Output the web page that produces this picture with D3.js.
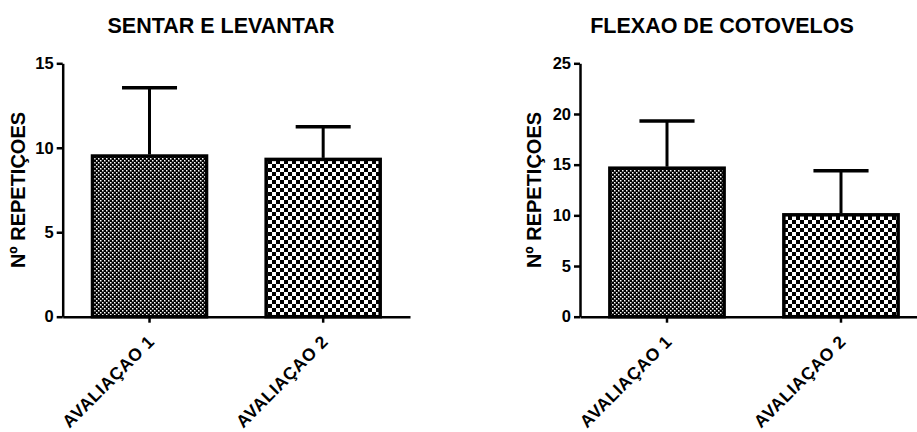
<!DOCTYPE html>
<meta charset="utf-8">
<style>

body {
  margin: 0;
  background: #fff;
}

text {
  font-family: "Liberation Sans", Arial, sans-serif;
  font-weight: bold;
  fill: #000;
}

.axis path,
.axis line {
  stroke: #000;
  stroke-width: 2.5px;
}

</style>
<body>
<script src="https://cdn.jsdelivr.net/npm/d3@7"></script>
<script>

var width = 917,
    height = 432;

var categories = ["AVALIAÇAO 1", "AVALIAÇAO 2"];

var sentarMeans = [9.6, 9.4],
    sentarErrors = [3.95, 1.85];

var flexaoMeans = [14.8, 10.2],
    flexaoErrors = [4.5, 4.2];

var sentarTicks = [0, 5, 10, 15],
    flexaoTicks = [0, 5, 10, 15, 20, 25];

var yLabel = "Nº REPETIÇOES";

var svg = d3.select("body").append("svg")
    .attr("width", width)
    .attr("height", height);

// two checker fills, fine for the first bar and coarse for the second
var defs = svg.append("defs");

function checker(id, cell, white, crisp) {
  var p = defs.append("pattern")
      .attr("id", id)
      .attr("patternUnits", "userSpaceOnUse")
      .attr("width", cell * 2)
      .attr("height", cell * 2);
  p.append("rect")
      .attr("width", cell * 2)
      .attr("height", cell * 2)
      .attr("fill", "#000");
  p.selectAll("rect.w")
      .data([[0, 0], [cell, cell]])
    .enter().append("rect")
      .attr("class", "w")
      .attr("x", function(d) { return d[0]; })
      .attr("y", function(d) { return d[1]; })
      .attr("width", white)
      .attr("height", white)
      .attr("fill", "#fff")
      .attr("shape-rendering", crisp ? "crispEdges" : null);
}

checker("fine", 2, 1.5, false);
checker("coarse", 4, 4, true);

var fills = ["url(#fine)", "url(#coarse)"];

drawChart({
  left: 62.7, right: 410, top: 63.3, bottom: 316.7,
  title: "SENTAR E LEVANTAR", titleX: 221,
  labelX: 25,
  max: 15, ticks: sentarTicks,
  means: sentarMeans, errors: sentarErrors
});

drawChart({
  left: 580, right: 928, top: 63.3, bottom: 316.7,
  title: "FLEXAO DE COTOVELOS", titleX: 722,
  labelX: 541,
  max: 25, ticks: flexaoTicks,
  means: flexaoMeans, errors: flexaoErrors
});

function drawChart(o) {
  var g = svg.append("g");

  var x = d3.scaleBand()
      .domain(categories)
      .range([o.left, o.right])
      .paddingInner(0.326)
      .paddingOuter(0.163);

  var y = d3.scaleLinear()
      .domain([0, o.max])
      .range([o.bottom, o.top]);

  g.append("text")
      .attr("x", o.titleX)
      .attr("y", 33)
      .attr("text-anchor", "middle")
      .style("font-size", "21.5px")
      .text(o.title);

  g.append("text")
      .attr("transform", "translate(" + o.labelX + "," + ((o.top + o.bottom) / 2) + ")rotate(-90)")
      .attr("text-anchor", "middle")
      .style("font-size", "20px")
      .text(yLabel);

  // bars
  g.selectAll(".bar")
      .data(o.means)
    .enter().append("rect")
      .attr("class", "bar")
      .attr("x", function(d, i) { return x(categories[i]) + 1.5; })
      .attr("width", x.bandwidth() - 3)
      .attr("y", function(d) { return y(d) + 1.5; })
      .attr("height", function(d) { return y(0) - y(d) - 1.5; })
      .attr("fill", function(d, i) { return fills[i]; })
      .attr("stroke", "#000")
      .attr("stroke-width", 3.5);

  // error bars (upper half only)
  var capW = x.bandwidth() * 0.47;

  var err = g.selectAll(".err")
      .data(o.means)
    .enter().append("g")
      .attr("class", "err")
      .attr("transform", function(d, i) {
        return "translate(" + (x(categories[i]) + x.bandwidth() / 2) + ",0)";
      });

  err.append("line")
      .attr("y1", function(d) { return y(d); })
      .attr("y2", function(d, i) { return y(d + o.errors[i]); })
      .attr("stroke", "#000")
      .attr("stroke-width", 3);

  err.append("line")
      .attr("x1", -capW / 2)
      .attr("x2", capW / 2)
      .attr("y1", function(d, i) { return y(d + o.errors[i]); })
      .attr("y2", function(d, i) { return y(d + o.errors[i]); })
      .attr("stroke", "#000")
      .attr("stroke-width", 3.5);

  var yAxis = g.append("g")
      .attr("class", "axis")
      .attr("transform", "translate(" + o.left + ",0)")
      .call(d3.axisLeft(y).tickValues(o.ticks).tickSize(6).tickSizeOuter(0).tickPadding(3));

  yAxis.selectAll("text")
      .style("font-size", "16.5px")
      .style("font-family", "'Liberation Sans', Arial, sans-serif");

  var xAxis = g.append("g")
      .attr("class", "axis")
      .attr("transform", "translate(0," + o.bottom + ")")
      .call(d3.axisBottom(x).tickSize(6).tickSizeOuter(0));

  xAxis.selectAll("text")
      .attr("text-anchor", "end")
      .attr("dy", null)
      .attr("y", null)
      .attr("transform", "translate(6,26)rotate(-45)")
      .style("font-size", "17.5px")
      .style("letter-spacing", "0.5px")
      .style("font-family", "'Liberation Sans', Arial, sans-serif");
}

</script>
